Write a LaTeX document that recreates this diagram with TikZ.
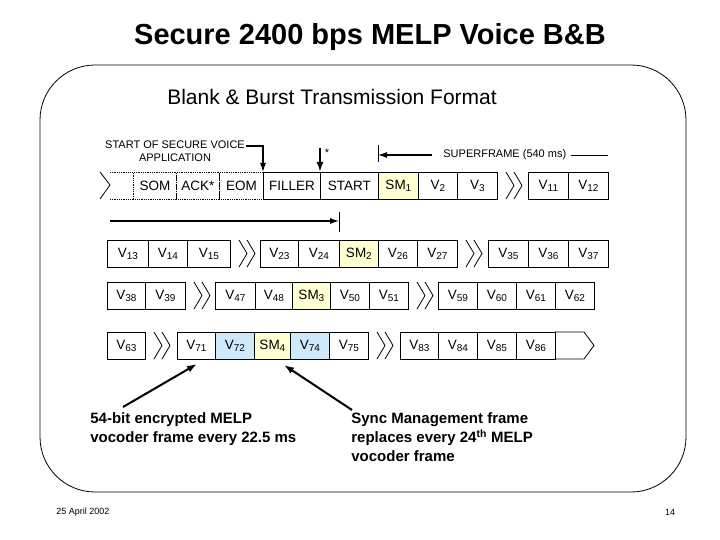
\documentclass[tikz,border=0pt]{standalone}
\usepackage{fontspec}
\setmainfont{Liberation Sans}
\usetikzlibrary{arrows.meta}
\begin{document}
\begin{tikzpicture}[x=1pt,y=-1pt,line width=0.8pt,
  cellbox/.style={draw,inner sep=0,anchor=north west,minimum height=27pt,font=\fontsize{13.5}{15}\selectfont},
  dotbox/.style={cellbox,densely dotted},
  lab/.style={font=\fontsize{11}{12.5}\selectfont,inner sep=0},
  big/.style={font=\bfseries\fontsize{15}{19}\selectfont,align=left,anchor=north west,inner sep=0},
  tip/.style={-{Latex[length=9pt,width=6pt]},line width=1.1pt},
  arr/.style={-{Latex[length=10pt,width=7pt]},line width=2pt}]
\definecolor{smy}{HTML}{FFFFD2}
\definecolor{vb}{HTML}{CDE9FA}
\useasboundingbox (0,0) rectangle (720,540);
\newcommand\sbs[1]{\raisebox{-0.25ex}{\fontsize{10}{11}\selectfont #1}}
\newcommand\cel[6][white]{\pgfmathsetmacro\ww{#4-#3}\node[cellbox,fill=#1,minimum width=\ww pt] (#2) at (#3,#5) {#6};}
\newcommand\zg[3]{\foreach \a in {9,17}{\draw (#1+\a,#2)--(#1+\a+8,{(#2+#3)/2})--(#1+\a,#3);}}
\node[font=\bfseries\fontsize{29}{32}\selectfont] (title) at (370,37) {Secure 2400 bps MELP Voice B\&B};
\draw[rounded corners=55pt] (40,65) rectangle (686,492);
\node[font=\fontsize{21}{24}\selectfont] (sub) at (332,97) {Blank \& Burst Transmission Format};
% row 1
\draw[densely dotted] (110,172)--(133,172) (110,199)--(133,199);
\draw (100,172)--(110,185)--(100,199);
\node[dotbox,minimum width=43pt] (som) at (133,172) {SOM};
\node[dotbox,minimum width=43pt] (ack) at (176,172) {ACK*};
\node[dotbox,minimum width=44pt] (eom) at (219,172) {EOM};
\cel{fil}{263}{320}{172}{FILLER}
\cel{st}{320}{378}{172}{START}
\cel[smy]{sm1}{378}{418}{172}{SM\sbs{1}}
\cel{v2}{418}{457}{172}{V\sbs{2}}
\cel{v3}{457}{497}{172}{V\sbs{3}}
\zg{497}{172}{199}
\cel{v11}{528}{568}{172}{V\sbs{11}}
\cel{v12}{568}{608}{172}{V\sbs{12}}
% annotations row1
\node[lab,align=center] (sv) at (175,151) {START OF SECURE VOICE\\APPLICATION};
\coordinate (svc) at (263,146);
\draw[tip] (246,146)--(svc)--(fil.north west);
\coordinate (sst) at (320,148);
\draw[arr] (sst)--(st.north west);
\node[lab] (star) at (327,153) {*};
\coordinate (sfa) at (378,145); \coordinate (sfb) at (378,162);
\draw (sfa)--(sfb);
\coordinate (sfl) at (432,155);
\draw[tip] (sfl)--(378,155);
\node[lab,anchor=west] (sft) at (443,155) {SUPERFRAME (540 ms)};
\draw (sft.east) ++(4,0) -- (608,155);
% row 2
\cel{v13}{107}{148}{240}{V\sbs{13}}
\cel{v14}{148}{187}{240}{V\sbs{14}}
\cel{v15}{187}{230}{240}{V\sbs{15}}
\zg{230}{240}{267}
\cel{v23}{260}{298}{240}{V\sbs{23}}
\cel{v24}{298}{339}{240}{V\sbs{24}}
\cel[smy]{sm2}{339}{378}{240}{SM\sbs{2}}
\cel{v26}{378}{417}{240}{V\sbs{26}}
\cel{v27}{417}{457}{240}{V\sbs{27}}
\zg{457}{240}{267}
\cel{v35}{488}{528}{240}{V\sbs{35}}
\cel{v36}{528}{568}{240}{V\sbs{36}}
\cel{v37}{568}{608}{240}{V\sbs{37}}
\coordinate (ea) at (110,221); \coordinate (eb) at (339,221);
\coordinate (ta) at (339,212); \coordinate (tb) at (339,232);
\draw[tip] (ea)--(eb);
\draw (ta)--(tb);
% row 3
\cel{v38}{107}{145}{282}{V\sbs{38}}
\cel{v39}{145}{185}{282}{V\sbs{39}}
\zg{185}{282}{309}
\cel{v47}{215}{255}{282}{V\sbs{47}}
\cel{v48}{255}{292}{282}{V\sbs{48}}
\cel[smy]{sm3}{292}{330}{282}{SM\sbs{3}}
\cel{v50}{330}{369}{282}{V\sbs{50}}
\cel{v51}{369}{408}{282}{V\sbs{51}}
\zg{408}{282}{309}
\cel{v59}{438}{477}{282}{V\sbs{59}}
\cel{v60}{477}{516}{282}{V\sbs{60}}
\cel{v61}{516}{555}{282}{V\sbs{61}}
\cel{v62}{555}{594}{282}{V\sbs{62}}
% row 4
\cel{v63}{107}{145}{332}{V\sbs{63}}
\zg{145}{332}{359}
\cel{v71}{177}{215}{332}{V\sbs{71}}
\cel[vb]{v72}{215}{254}{332}{V\sbs{72}}
\cel[smy]{sm4}{254}{290}{332}{SM\sbs{4}}
\cel[vb]{v74}{290}{329}{332}{V\sbs{74}}
\cel{v75}{329}{368}{332}{V\sbs{75}}
\zg{368}{332}{359}
\cel{v83}{400}{438}{332}{V\sbs{83}}
\cel{v84}{438}{477}{332}{V\sbs{84}}
\cel{v85}{477}{516}{332}{V\sbs{85}}
\cel{v86}{516}{555}{332}{V\sbs{86}}
\draw (555,332)--(584,332)--(594,345.5)--(584,359)--(555,359);
% notes
\node[big] (n1) at (90,412) {54-bit encrypted MELP\\vocoder frame every 22.5 ms};
\node[big] (n2) at (351,412) {Sync Management frame\\replaces every 24\textsuperscript{th} MELP\\vocoder frame};
\coordinate (a1) at (123,407); \coordinate (a2) at (352,410);
\draw[arr] (a1)--(197,364);
\draw[arr] (a2)--(284,365);
\node[font=\fontsize{9}{10}\selectfont] (d) at (83,512) {25 April 2002};
\node[font=\fontsize{9}{10}\selectfont] (p) at (670,512) {14};
\end{tikzpicture}
\end{document}
